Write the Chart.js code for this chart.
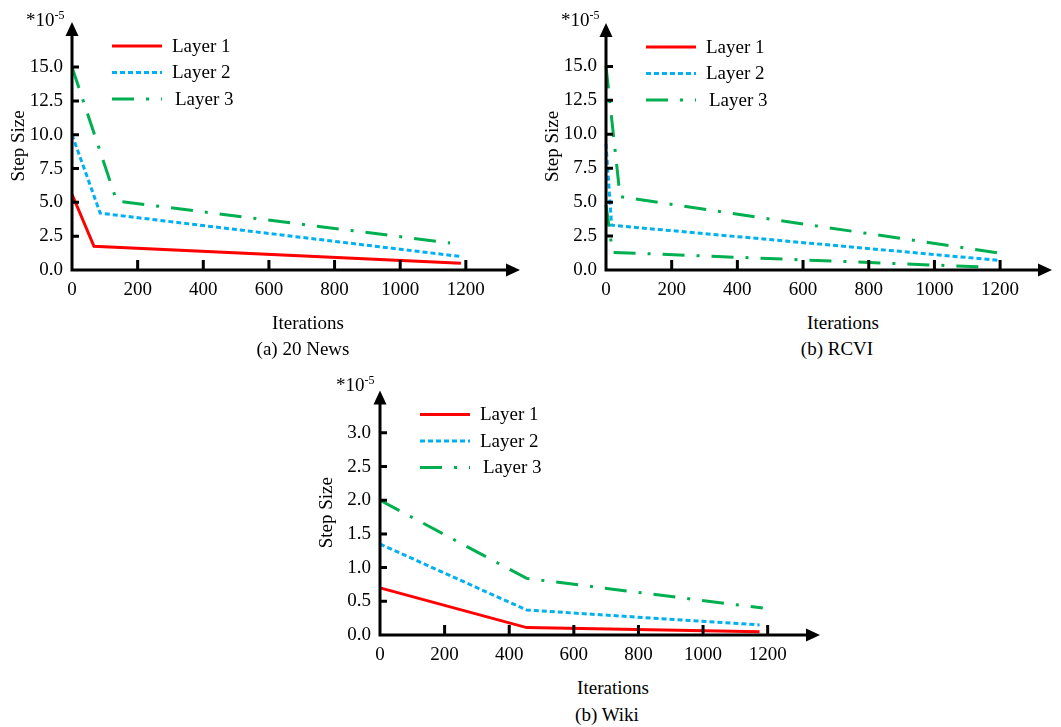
<!DOCTYPE html>
<html>
<head>
<meta charset="utf-8">
<script src="https://cdn.jsdelivr.net/npm/chart.js@4.4.0/dist/chart.umd.min.js"></script>
<style>
  body { margin: 0; background: #fff; width: 1061px; height: 727px; position: relative; overflow: hidden;
         font-family: "Liberation Serif", "DejaVu Serif", serif; color: #000; }
  canvas { position: absolute; }
  .txt { position: absolute; font-size: 19px; transform: translate(-50%, -50%); white-space: nowrap; }
  .exp { position: absolute; font-size: 19px; line-height: 19px; white-space: nowrap; }
  .exp sup { font-size: 12px; vertical-align: 7px; line-height: 0; }
</style>
</head>
<body>

<canvas id="newsChart" style="left:0px; top:0px;" width="530" height="300"></canvas>
<canvas id="rcviChart" style="left:534px; top:0px;" width="527" height="300"></canvas>
<canvas id="wikiChart" style="left:308px; top:370px;" width="520" height="295"></canvas>

<div class="exp" style="left:26px; top:10px;">*10<sup>-5</sup></div>
<div class="exp" style="left:561px; top:10px;">*10<sup>-5</sup></div>
<div class="exp" style="left:336px; top:375px;">*10<sup>-5</sup></div>

<div class="txt" style="left:308px; top:323px;">Iterations</div>
<div class="txt" style="left:303px; top:349px;">(a) 20 News</div>
<div class="txt" style="left:843px; top:323px;">Iterations</div>
<div class="txt" style="left:837px; top:349px;">(b) RCVI</div>
<div class="txt" style="left:613px; top:688px;">Iterations</div>
<div class="txt" style="left:607px; top:715px;">(b) Wiki</div>

<script>
// labels and ticks
const layerNames = ['Layer 1', 'Layer 2', 'Layer 3'];
const xTicks = [0, 200, 400, 600, 800, 1000, 1200];
const yTicksBig = [0, 2.5, 5, 7.5, 10, 12.5, 15];
const yTicksWiki = [0, 0.5, 1, 1.5, 2, 2.5, 3];

// (a) 20 News  (values in 1e-5)
const newsIter1 = [0, 67, 1185];
const newsLayer1 = [5.6, 1.75, 0.5];
const newsIter2 = [0, 86, 1183];
const newsLayer2 = [10.0, 4.2, 1.0];
const newsIter3 = [0, 136, 1152];
const newsLayer3 = [15.0, 5.1, 2.0];

// (b) RCVI
const rcviIter1 = [0, 20, 1170];
const rcviLayer1 = [4.8, 1.3, 0.2];
const rcviIter2 = [0, 17, 1200];
const rcviLayer2 = [9.3, 3.3, 0.7];
const rcviIter3 = [0, 43, 1210];
const rcviLayer3 = [15.0, 5.4, 1.2];

// (b) Wiki
const wikiIter1 = [0, 454, 1175];
const wikiLayer1 = [0.70, 0.11, 0.05];
const wikiIter2 = [0, 454, 1175];
const wikiLayer2 = [1.35, 0.37, 0.15];
const wikiIter3 = [0, 454, 1185];
const wikiLayer3 = [2.0, 0.84, 0.40];

// styles
const layerColors = ['#ff0000', '#00b0f0', '#00b050'];
const layerDashes = [[], [5, 3], [22, 12, 3, 12]];

Chart.defaults.font.family = "'Liberation Serif', 'DejaVu Serif', serif";
Chart.defaults.font.size = 19;
Chart.defaults.color = '#000';

function toPoints(xs, ys) {
    return xs.map((x, i) => ({ x: x, y: ys[i] }));
}

function makeDataset(idx, xs, ys, styleIdx) {
    const s = styleIdx === undefined ? idx : styleIdx;
    return {
        label: layerNames[idx],
        data: toPoints(xs, ys),
        borderColor: layerColors[s],
        borderDash: layerDashes[s],
        borderWidth: 3,
        pointRadius: 0,
        tension: 0,
        fill: false,
        clip: false
    };
}

// axis lines with arrow heads and inward tick marks
const arrowAxes = {
    id: 'arrowAxes',
    afterDatasetsDraw(chart) {
        const ctx = chart.ctx;
        const a = chart.chartArea;
        const xs = chart.scales.x, ys = chart.scales.y;
        ctx.save();
        ctx.strokeStyle = '#000';
        ctx.fillStyle = '#000';
        ctx.lineWidth = 3;
        ctx.setLineDash([]);
        ctx.beginPath();
        ctx.moveTo(a.left, a.top + 10);
        ctx.lineTo(a.left, a.bottom);
        ctx.lineTo(a.right - 10, a.bottom);
        ctx.stroke();
        // arrows
        ctx.beginPath();
        ctx.moveTo(a.left, a.top);
        ctx.lineTo(a.left - 6.5, a.top + 14);
        ctx.lineTo(a.left + 6.5, a.top + 14);
        ctx.closePath();
        ctx.fill();
        ctx.beginPath();
        ctx.moveTo(a.right, a.bottom);
        ctx.lineTo(a.right - 14, a.bottom - 6.5);
        ctx.lineTo(a.right - 14, a.bottom + 6.5);
        ctx.closePath();
        ctx.fill();
        // ticks
        ctx.beginPath();
        xs.ticks.forEach(t => {
            if (t.value === 0) return;
            const px = xs.getPixelForValue(t.value);
            ctx.moveTo(px, a.bottom);
            ctx.lineTo(px, a.bottom - 10);
        });
        ys.ticks.forEach(t => {
            if (t.value === 0) return;
            const py = ys.getPixelForValue(t.value);
            ctx.moveTo(a.left, py);
            ctx.lineTo(a.left + 7, py);
        });
        ctx.stroke();
        ctx.restore();
    }
};

// legend in the upper left of the plot; keeps the nominal style of each layer
const layerLegend = {
    id: 'layerLegend',
    afterDraw(chart) {
        const ctx = chart.ctx;
        const a = chart.chartArea;
        ctx.save();
        layerNames.forEach((name, i) => {
            const y = a.top + 24 + i * 26.5;
            ctx.strokeStyle = layerColors[i];
            ctx.lineWidth = 3;
            ctx.setLineDash(layerDashes[i]);
            ctx.beginPath();
            ctx.moveTo(a.left + 40, y);
            ctx.lineTo(a.left + 90, y);
            ctx.stroke();
            ctx.setLineDash([]);
            ctx.fillStyle = '#000';
            ctx.font = "19px 'Liberation Serif'";
            ctx.textBaseline = 'middle';
            ctx.textAlign = 'left';
            ctx.fillText(name, a.left + 100 + (i === 2 ? 3 : 0), y + 1);
        });
        ctx.restore();
    }
};

function makeChart(id, datasets, xMax, yMax, yTicks, padTop, padRight) {
    return new Chart(document.getElementById(id), {
        type: 'line',
        data: { datasets: datasets },
        options: {
            responsive: false,
            animation: false,
            layout: { padding: { top: padTop, right: padRight, left: 0, bottom: 0 } },
            plugins: { legend: { display: false }, tooltip: { enabled: false } },
            scales: {
                x: {
                    type: 'linear',
                    min: 0,
                    max: xMax,
                    grid: { display: false, drawTicks: false },
                    border: { display: false },
                    ticks: { padding: 9, maxRotation: 0, callback: v => String(v) },
                    afterBuildTicks: s => { s.ticks = xTicks.map(v => ({ value: v })); },
                    afterFit: s => { s.height = 30; }
                },
                y: {
                    min: 0,
                    max: yMax,
                    grid: { display: false, drawTicks: false },
                    border: { display: false },
                    title: { display: true, text: 'Step Size', padding: { top: 8, bottom: 0 } },
                    ticks: { padding: 9, callback: v => v.toFixed(1) },
                    afterBuildTicks: s => { s.ticks = yTicks.map(v => ({ value: v })); },
                    afterFit: s => { s.width = 72; }
                }
            }
        },
        plugins: [arrowAxes, layerLegend]
    });
}

makeChart('newsChart', [
    makeDataset(0, newsIter1, newsLayer1),
    makeDataset(1, newsIter2, newsLayer2),
    makeDataset(2, newsIter3, newsLayer3)
], 1365, 18.33, yTicksBig, 22, 10);

// in the RCVI panel the Layer 1 curve is drawn in the Layer 3 style
makeChart('rcviChart', [
    makeDataset(0, rcviIter1, rcviLayer1, 2),
    makeDataset(1, rcviIter2, rcviLayer2),
    makeDataset(2, rcviIter3, rcviLayer3)
], 1358, 18.2, yTicksBig, 23, 9);

makeChart('wikiChart', [
    makeDataset(0, wikiIter1, wikiLayer1),
    makeDataset(1, wikiIter2, wikiLayer2),
    makeDataset(2, wikiIter3, wikiLayer3)
], 1362, 3.63, yTicksWiki, 18, 8);
</script>
</body>
</html>
